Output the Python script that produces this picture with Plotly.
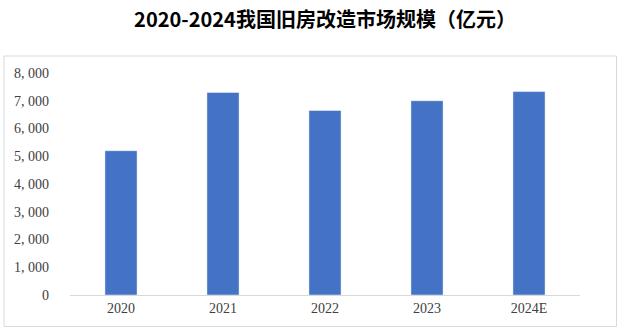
import plotly.graph_objects as go

years = ["2020", "2021", "2022", "2023", "2024E"]
values = [5200, 7300, 6650, 7000, 7330]
tick_vals = [0, 1000, 2000, 3000, 4000, 5000, 6000, 7000, 8000]
tick_text = ["0", "1, 000", "2, 000", "3, 000", "4, 000", "5, 000", "6, 000", "7, 000", "8, 000"]

fig = go.Figure(go.Bar(
    x=years, y=values,
    marker=dict(color="#4472c4", line=dict(color="rgba(255,255,255,0.45)", width=1)),
))

fig.update_layout(
    width=624, height=335,
    margin=dict(l=70, r=44, t=73, b=40),
    paper_bgcolor="white", plot_bgcolor="white",
    bargap=0.685,
    showlegend=False,
    title=dict(
        text="<b>2020-2024我国旧房改造市场规模（亿元）</b>",
        x=0.5, xanchor="center", xref="paper",
        y=1 - 20 / 335, yanchor="middle", yref="container",
        font=dict(family="Noto Sans CJK SC", size=20, color="#000000"),
    ),
    xaxis=dict(
        showline=True, linecolor="#d9d9d9", linewidth=1,
        showgrid=False, ticks="",
        tickfont=dict(family="Liberation Serif, DejaVu Serif", size=14, color="#404040"),
    ),
    yaxis=dict(
        range=[0, 8000], tickvals=tick_vals, ticktext=tick_text,
        showgrid=False, zeroline=False, showline=False, ticks="",
        ticklabelstandoff=20,
        tickfont=dict(family="Liberation Serif, DejaVu Serif", size=14, color="#404040"),
    ),
    shapes=[dict(
        type="rect", xref="paper", yref="paper",
        x0=-66 / 510, x1=(616.5 - 70) / 510,
        y0=-(326.5 - 295) / 222, y1=(295 - 56) / 222,
        line=dict(color="#d9d9d9", width=1), fillcolor="rgba(0,0,0,0)", layer="below",
    )],
)

fig.write_html("out.html")
